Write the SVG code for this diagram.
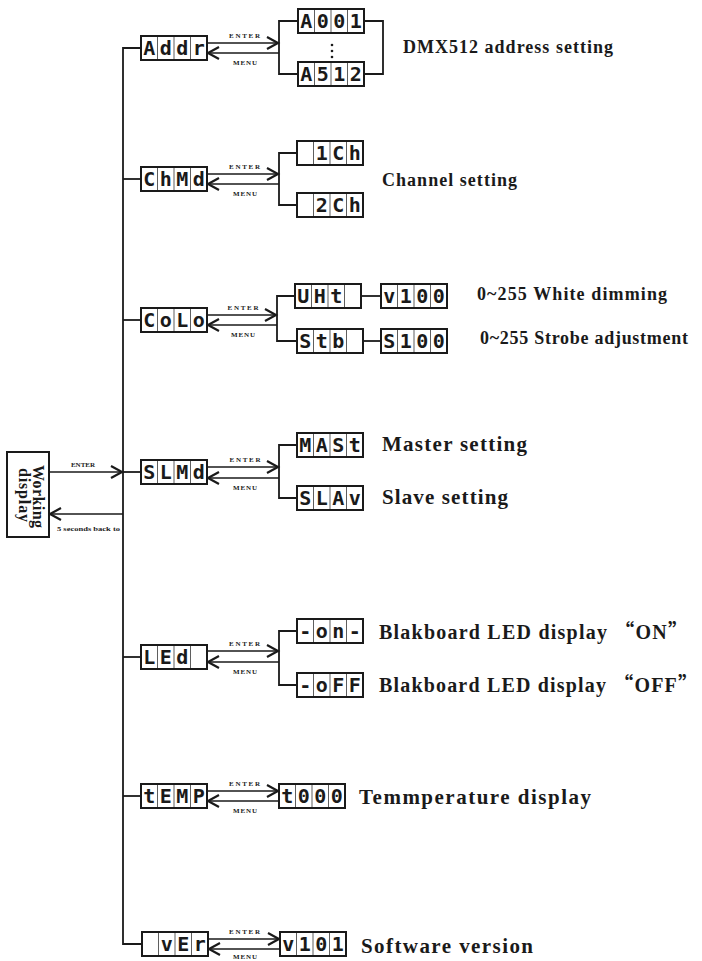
<svg xmlns="http://www.w3.org/2000/svg" width="702" height="961" viewBox="0 0 702 961">
<style>
.bg{fill:#fff}
.box{fill:#fff;stroke:#1a1a1a;stroke-width:2}
.dv{stroke:#1a1a1a;stroke-width:0.7}
.seg{font-family:"DejaVu Sans Mono","Liberation Mono",monospace;font-weight:bold;font-size:20px;text-anchor:middle;fill:#1a1a1a}
.ln{stroke:#1a1a1a;stroke-width:1.8;fill:none}
.ar{stroke:#1a1a1a;stroke-width:1.6;fill:none}
.sm{font-family:"Liberation Serif",serif;font-weight:bold;font-size:7px;fill:#1a1a1a;text-anchor:middle}
.lb{font-family:"Liberation Serif",serif;font-weight:bold;font-size:18px;fill:#1a1a1a}
.lb2{font-family:"Liberation Serif",serif;font-weight:bold;font-size:21px;fill:#1a1a1a}
.lb3{font-family:"Liberation Serif",serif;font-weight:bold;font-size:20px;fill:#1a1a1a}
.q{font-family:"Noto Sans CJK SC",sans-serif}
.wd{fill:#fff;stroke:#1a1a1a;stroke-width:2}
.wt{font-family:"Liberation Serif",serif;font-weight:bold;font-size:16px;fill:#1a1a1a}
</style>
<defs>
<marker id="ah" markerUnits="userSpaceOnUse" markerWidth="16" markerHeight="16" viewBox="-13 -8 16 16" refX="0" refY="0" orient="auto" overflow="visible">
<path d="M-11,-6 L0,0 L-11,6" fill="none" stroke="#1a1a1a" stroke-width="2.2" stroke-linejoin="miter"/>
</marker>
<g id="cells">
<rect class="box" x="0" y="0" width="66" height="24"/>
<line class="dv" x1="16.5" y1="0" x2="16.5" y2="24"/>
<line class="dv" x1="33" y1="0" x2="33" y2="24"/>
<line class="dv" x1="49.5" y1="0" x2="49.5" y2="24"/>
</g>
</defs>
<rect class="bg" x="0" y="0" width="702" height="961"/>

<g id="connectors">
<polyline class="ln" points="141,48 123,48 123,944 142,944"/>
<line class="ln" x1="123" y1="179" x2="141" y2="179"/>
<line class="ln" x1="123" y1="320" x2="141" y2="320"/>
<line class="ln" x1="123" y1="472" x2="141" y2="472"/>
<line class="ln" x1="123" y1="657" x2="141" y2="657"/>
<line class="ln" x1="123" y1="796" x2="141" y2="796"/>
<line class="ar" x1="49" y1="472" x2="122" y2="472" marker-end="url(#ah)"/>
<line class="ar" x1="123" y1="514" x2="50" y2="514" marker-end="url(#ah)"/>
<text class="sm" x="83" y="467">ENTER</text>
<text class="sm" x="88.5" y="531" textLength="63" lengthAdjust="spacingAndGlyphs">5 seconds back to</text>

<line class="ar" x1="207" y1="43" x2="278" y2="43" marker-end="url(#ah)"/>
<line class="ar" x1="279" y1="53" x2="208" y2="53" marker-end="url(#ah)"/>
<text class="sm" x="244.5" y="37.5" textLength="31" lengthAdjust="spacing">ENTER</text>
<text class="sm" x="245" y="64.5" textLength="24" lengthAdjust="spacing">MENU</text>
<polyline class="ln" points="298,21 279,21 279,74 298,74"/>
<polyline class="ln" points="364,21 383,21 383,74 364,74"/>
<circle cx="332" cy="45" r="1.3" fill="#1a1a1a"/>
<circle cx="332" cy="51" r="1.3" fill="#1a1a1a"/>
<circle cx="332" cy="57" r="1.3" fill="#1a1a1a"/>

<line class="ar" x1="207" y1="174" x2="278" y2="174" marker-end="url(#ah)"/>
<line class="ar" x1="279" y1="184" x2="208" y2="184" marker-end="url(#ah)"/>
<text class="sm" x="244.5" y="168.5" textLength="31" lengthAdjust="spacing">ENTER</text>
<text class="sm" x="245" y="195.5" textLength="24" lengthAdjust="spacing">MENU</text>
<polyline class="ln" points="297,153 279,153 279,205 297,205"/>

<line class="ar" x1="207" y1="315" x2="276" y2="315" marker-end="url(#ah)"/>
<line class="ar" x1="277" y1="325" x2="208" y2="325" marker-end="url(#ah)"/>
<text class="sm" x="243" y="309.5" textLength="31" lengthAdjust="spacing">ENTER</text>
<text class="sm" x="243" y="336.5" textLength="24" lengthAdjust="spacing">MENU</text>
<polyline class="ln" points="295,296 277,296 277,341 297,341"/>
<line class="ln" x1="361" y1="296" x2="381" y2="296"/>
<line class="ln" x1="363" y1="341" x2="381" y2="341"/>

<line class="ar" x1="207" y1="467" x2="278" y2="467" marker-end="url(#ah)"/>
<line class="ar" x1="279" y1="478" x2="208" y2="478" marker-end="url(#ah)"/>
<text class="sm" x="245" y="462" textLength="31" lengthAdjust="spacing">ENTER</text>
<text class="sm" x="245" y="489.5" textLength="24" lengthAdjust="spacing">MENU</text>
<polyline class="ln" points="297,445 279,445 279,498 297,498"/>

<line class="ar" x1="207" y1="651" x2="278" y2="651" marker-end="url(#ah)"/>
<line class="ar" x1="279" y1="662" x2="208" y2="662" marker-end="url(#ah)"/>
<text class="sm" x="244.5" y="646" textLength="31" lengthAdjust="spacing">ENTER</text>
<text class="sm" x="245" y="673.5" textLength="24" lengthAdjust="spacing">MENU</text>
<polyline class="ln" points="297,631 279,631 279,685 297,685"/>

<line class="ar" x1="207" y1="791" x2="278" y2="791" marker-end="url(#ah)"/>
<line class="ar" x1="279" y1="801" x2="208" y2="801" marker-end="url(#ah)"/>
<text class="sm" x="244.5" y="786" textLength="31" lengthAdjust="spacing">ENTER</text>
<text class="sm" x="245" y="813" textLength="24" lengthAdjust="spacing">MENU</text>

<line class="ar" x1="208" y1="939" x2="279" y2="939" marker-end="url(#ah)"/>
<line class="ar" x1="280" y1="949" x2="209" y2="949" marker-end="url(#ah)"/>
<text class="sm" x="244.5" y="933.5" textLength="31" lengthAdjust="spacing">ENTER</text>
<text class="sm" x="245" y="958.5" textLength="24" lengthAdjust="spacing">MENU</text>
</g>

<g id="working-display">
<rect class="wd" x="7" y="452" width="42" height="85"/>
<text class="wt" transform="translate(33,465) rotate(90)" textLength="63" lengthAdjust="spacing">Working</text>
<text class="wt" transform="translate(19,468) rotate(90)" textLength="54" lengthAdjust="spacing">display</text>
</g>

<g id="addr" transform="translate(141,36)"><use href="#cells"/><text class="seg" x="8.25 24.75 41.25 57.75" y="19">Addr</text></g>
<g id="a001" transform="translate(298,9)"><use href="#cells"/><text class="seg" x="8.25 24.75 41.25 57.75" y="19">A001</text></g>
<g id="a512" transform="translate(298,62)"><use href="#cells"/><text class="seg" x="8.25 24.75 41.25 57.75" y="19">A512</text></g>
<g id="chmd" transform="translate(141,167)"><use href="#cells"/><text class="seg" x="8.25 24.75 41.25 57.75" y="19">ChMd</text></g>
<g id="ch1" transform="translate(297,141)"><use href="#cells"/><text class="seg" x="24.75 41.25 57.75" y="19">1Ch</text></g>
<g id="ch2" transform="translate(297,193)"><use href="#cells"/><text class="seg" x="24.75 41.25 57.75" y="19">2Ch</text></g>
<g id="colo" transform="translate(141,308)"><use href="#cells"/><text class="seg" x="8.25 24.75 41.25 57.75" y="19">CoLo</text></g>
<g id="uht" transform="translate(295,284)"><use href="#cells"/><text class="seg" x="8.25 24.75 41.25" y="19">UHt</text></g>
<g id="v100" transform="translate(381,284)"><use href="#cells"/><text class="seg" x="8.25 24.75 41.25 57.75" y="19">v100</text></g>
<g id="stb" transform="translate(297,329)"><use href="#cells"/><text class="seg" x="8.25 24.75 41.25" y="19">Stb</text></g>
<g id="s100" transform="translate(381,329)"><use href="#cells"/><text class="seg" x="8.25 24.75 41.25 57.75" y="19">S100</text></g>
<g id="slmd" transform="translate(141,460)"><use href="#cells"/><text class="seg" x="8.25 24.75 41.25 57.75" y="19">SLMd</text></g>
<g id="mast" transform="translate(297,433)"><use href="#cells"/><text class="seg" x="8.25 24.75 41.25 57.75" y="19">MASt</text></g>
<g id="slav" transform="translate(297,486)"><use href="#cells"/><text class="seg" x="8.25 24.75 41.25 57.75" y="19">SLAv</text></g>
<g id="led" transform="translate(141,645)"><use href="#cells"/><text class="seg" x="8.25 24.75 41.25" y="19">LEd</text></g>
<g id="on" transform="translate(297,619)"><use href="#cells"/><text class="seg" x="8.25 24.75 41.25 57.75" y="19">-on-</text></g>
<g id="off" transform="translate(297,673)"><use href="#cells"/><text class="seg" x="8.25 24.75 41.25 57.75" y="19">-oFF</text></g>
<g id="temp" transform="translate(141,784)"><use href="#cells"/><text class="seg" x="8.25 24.75 41.25 57.75" y="19">tEMP</text></g>
<g id="t000" transform="translate(279,784)"><use href="#cells"/><text class="seg" x="8.25 24.75 41.25 57.75" y="19">t000</text></g>
<g id="ver" transform="translate(142,932)"><use href="#cells"/><text class="seg" x="24.75 41.25 57.75" y="19">vEr</text></g>
<g id="v101" transform="translate(280,932)"><use href="#cells"/><text class="seg" x="8.25 24.75 41.25 57.75" y="19">v101</text></g>

<g id="labels">
<text class="lb" x="403" y="53" textLength="210" lengthAdjust="spacing">DMX512 address setting</text>
<text class="lb" x="382" y="186" textLength="135" lengthAdjust="spacing">Channel setting</text>
<text class="lb" x="477" y="300" textLength="190" lengthAdjust="spacing">0~255 White dimming</text>
<text class="lb" x="480" y="344" textLength="208" lengthAdjust="spacing">0~255 Strobe adjustment</text>
<text class="lb2" x="382" y="451" textLength="145" lengthAdjust="spacing">Master setting</text>
<text class="lb2" x="382" y="504" textLength="126" lengthAdjust="spacing">Slave setting</text>
<text class="lb3" x="379" y="639" textLength="309" lengthAdjust="spacing">Blakboard LED display <tspan class="q">“</tspan>ON<tspan class="q">”</tspan></text>
<text class="lb3" x="379" y="692" textLength="319" lengthAdjust="spacing">Blakboard LED display <tspan class="q">“</tspan>OFF<tspan class="q">”</tspan></text>
<text class="lb2" x="359" y="804" textLength="232" lengthAdjust="spacing">Temmperature display</text>
<text class="lb2" x="361" y="953" textLength="172" lengthAdjust="spacing">Software version</text>
</g>
</svg>
